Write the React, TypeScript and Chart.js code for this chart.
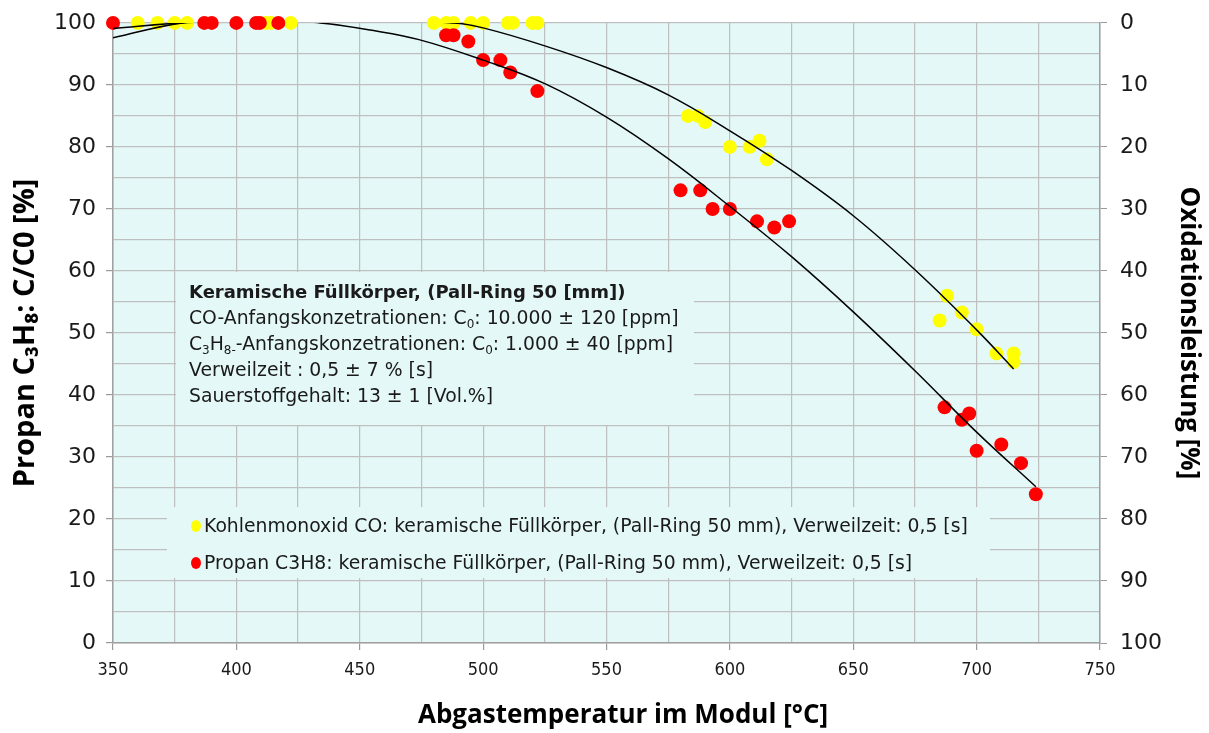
import React, { useEffect, useRef } from 'react';
import { Chart, registerables } from 'chart.js';

Chart.register(...registerables);

// ---------- data ----------
const coTemps = [360, 368, 375, 380, 412, 414, 422, 480, 485, 488, 495, 500, 510, 512, 520, 522,
  583, 587, 590, 600, 608, 612, 615, 685, 688, 694, 700, 708, 715, 715];
const coValues = [100, 100, 100, 100, 100, 100, 100, 100, 100, 100, 100, 100, 100, 100, 100, 100,
  85, 85, 84, 80, 80, 81, 78, 52, 56, 53.3, 50.6, 46.7, 46.7, 45.3];

const c3h8Temps = [350, 387, 390, 400, 408, 409.5, 417, 485, 488, 494, 500, 507, 511, 522,
  580, 588, 593, 600, 611, 618, 624, 687, 694, 697, 700, 710, 718, 724];
const c3h8Values = [100, 100, 100, 100, 100, 100, 100, 98, 98, 97, 94, 94, 92, 89,
  73, 73, 70, 70, 68, 67, 68, 38, 36, 37, 31, 32, 29, 24];

// trend curves
const coTrendTemps = [350, 378, 433, 488, 500, 525, 550, 575, 600, 625, 650, 675, 700, 715];
const coTrendValues = [99.1, 100, 100.8, 100, 99.2, 96.3, 92.8, 88.4, 82.6, 76.2, 68.9, 60.2, 50.5, 44.2];
const c3h8TrendTemps = [350, 378, 406, 434, 455, 474, 500, 525, 550, 575, 600, 625, 650, 675, 700, 724];
const c3h8TrendValues = [97.6, 100, 100.7, 100, 98.8, 97.3, 94.0, 90.2, 84.8, 78.1, 70.4, 62.3, 53.4, 43.9, 34.0, 25.2];

const xTickStep = 25;
const xLabelStep = 50;
const yTickStep = 5;
const yLabelStep = 10;

const xTitle = 'Abgastemperatur im Modul [°C]';
const yTitle = 'Propan C₃H₈: C/C0 [%]';
const y2Title = 'Oxidationsleistung [%]';

const legendLabels = [
  'Kohlenmonoxid CO: keramische Füllkörper, (Pall-Ring 50 mm), Verweilzeit: 0,5 [s]',
  'Propan C3H8: keramische Füllkörper, (Pall-Ring 50 mm), Verweilzeit: 0,5 [s]',
];
const seriesColors = ['#FFFF00', '#FF0000'];

const infoTitle = 'Keramische Füllkörper, (Pall-Ring 50 [mm])';
// [text, isSubscript]
const infoLines: [string, boolean][][] = [
  [['CO-Anfangskonzetrationen: C', false], ['0', true], [': 10.000 ± 120 [ppm]', false]],
  [['C', false], ['3', true], ['H', false], ['8-', true], ['-Anfangskonzetrationen: C', false], ['0', true], [': 1.000 ± 40 [ppm]', false]],
  [['Verweilzeit : 0,5 ± 7 % [s]', false]],
  [['Sauerstoffgehalt: 13 ± 1 [Vol.%]', false]],
];

// ---------- styling ----------
const BG = '#E4F8F8';
const GRID = '#BFBFBF';
const TITLE_FONT = '"Open Sans", "Noto Sans", sans-serif';
const BODY_FONT = '"DejaVu Sans", "Noto Sans", sans-serif';
const TEXT = '#1a1a1a';

const pts = (xs: number[], ys: number[]) => xs.map((x, i) => ({ x, y: ys[i] }));

const decorPlugin = {
  id: 'decor',
  beforeDraw(chart: any) {
    const { ctx, chartArea: a } = chart;
    ctx.save();
    ctx.fillStyle = BG;
    ctx.fillRect(a.left, a.top, a.right - a.left, a.bottom - a.top);
    ctx.restore();
  },
  beforeDatasetsDraw(chart: any) {
    const { ctx } = chart;
    ctx.save();
    // info box
    ctx.fillStyle = BG;
    ctx.fillRect(176, 272, 518, 153);
    ctx.fillStyle = TEXT;
    ctx.textBaseline = 'alphabetic';
    ctx.textAlign = 'left';
    ctx.font = `bold 18px ${BODY_FONT}`;
    ctx.fillText(infoTitle, 189, 298);
    infoLines.forEach((segs, i) => {
      let x = 189;
      const y = 324 + i * 26;
      segs.forEach(([t, sub]) => {
        ctx.font = `${sub ? 12 : 18.8}px ${BODY_FONT}`;
        ctx.fillText(t, x, sub ? y + 4 : y);
        x += ctx.measureText(t).width;
      });
    });

    // legend box
    ctx.fillStyle = BG;
    ctx.fillRect(167, 507, 823, 71);
    ctx.font = `18.8px ${BODY_FONT}`;
    ctx.textBaseline = 'middle';
    legendLabels.forEach((lab, i) => {
      const cy = 526 + i * 37;
      ctx.fillStyle = seriesColors[i];
      ctx.beginPath();
      ctx.ellipse(196, cy, 5, 6, 0, 0, Math.PI * 2);
      ctx.fill();
      ctx.fillStyle = TEXT;
      ctx.fillText(lab, 204, cy + 1);
    });
    ctx.restore();
  },
  afterDraw(chart: any) {
    const { ctx } = chart;
    ctx.save();
    ctx.fillStyle = '#000';
    ctx.font = `bold 26px ${TITLE_FONT}`;
    ctx.textAlign = 'center';
    ctx.textBaseline = 'middle';
    ctx.fillText(xTitle, 623, 716);
    ctx.restore();
  },
};

export default function App() {
  const ref = useRef<HTMLCanvasElement | null>(null);

  useEffect(() => {
    if (!ref.current) return;
    const trend = (data: any) => ({
      type: 'line',
      data,
      borderColor: '#000',
      borderWidth: 1.5,
      pointRadius: 0,
      fill: false,
      tension: 0.4,
      clip: 0,
      order: 0,
    });
    const chart = new Chart(ref.current, {
      type: 'scatter',
      data: {
        datasets: [
          { ...trend(pts(coTrendTemps, coTrendValues)), label: 'CO trend' },
          { ...trend(pts(c3h8TrendTemps, c3h8TrendValues)), label: 'C3H8 trend' },
          {
            label: legendLabels[1],
            data: pts(c3h8Temps, c3h8Values),
            backgroundColor: seriesColors[1],
            borderWidth: 0,
            pointRadius: 7,
            clip: false,
            order: 1,
          },
          {
            label: legendLabels[0],
            data: pts(coTemps, coValues),
            backgroundColor: seriesColors[0],
            borderWidth: 0,
            pointRadius: 7,
            clip: false,
            order: 2,
          },
        ],
      } as any,
      options: {
        animation: false,
        responsive: false,
        devicePixelRatio: 1,
        layout: { padding: { top: 22, left: 0, right: 0, bottom: 0 } },
        plugins: { legend: { display: false }, tooltip: { enabled: false } },
        scales: {
          x: {
            type: 'linear',
            position: 'bottom',
            min: 350,
            max: 750,
            afterFit: (s: any) => { s.height = 90; },
            ticks: {
              stepSize: xTickStep,
              autoSkip: false,
              maxRotation: 0,
              padding: 10,
              color: TEXT,
              font: { family: '"Liberation Sans Narrow", "DejaVu Sans Condensed", sans-serif', size: 18 },
              callback: (v: any) => (v % xLabelStep === 0 ? String(v) : ''),
            },
            grid: {
              color: GRID,
              lineWidth: 1.2,
              tickLength: 7,
              tickColor: (c: any) => (c.tick && c.tick.value % xLabelStep === 0 ? '#999' : 'rgba(0,0,0,0)'),
            },
            border: { color: '#A0A0A0', width: 1.5 },
            title: { display: false, text: xTitle },
          },
          y: {
            position: 'left',
            min: 0,
            max: 100,
            afterFit: (s: any) => { s.width = 113; },
            ticks: {
              stepSize: yTickStep,
              autoSkip: false,
              padding: 10,
              color: TEXT,
              font: { family: BODY_FONT, size: 22, lineHeight: 0.9 },
              callback: (v: any) => (v % yLabelStep === 0 ? String(v) : ''),
            },
            grid: {
              color: GRID,
              lineWidth: 1.2,
              tickLength: 7,
              tickColor: (c: any) => (c.tick && c.tick.value % yLabelStep === 0 ? '#999' : 'rgba(0,0,0,0)'),
            },
            border: { color: '#A0A0A0', width: 1.5 },
            title: {
              display: true,
              text: yTitle,
              color: '#000',
              font: { family: TITLE_FONT, size: 29, weight: 'bold' },
              padding: { top: 8, bottom: 0 },
            },
          },
          y2: {
            position: 'right',
            min: 0,
            max: 100,
            reverse: true,
            afterFit: (s: any) => { s.width = 109; },
            ticks: {
              stepSize: yLabelStep,
              autoSkip: false,
              padding: 13,
              color: TEXT,
              font: { family: BODY_FONT, size: 22, lineHeight: 0.9 },
            },
            grid: { drawOnChartArea: false, tickLength: 7, tickColor: '#999' },
            border: { color: '#A0A0A0', width: 1.5 },
            title: {
              display: true,
              text: y2Title,
              color: '#000',
              font: { family: TITLE_FONT, size: 26, weight: 'bold' },
              padding: { top: 5, bottom: 0 },
            },
          },
        },
      } as any,
      plugins: [decorPlugin],
    });
    return () => chart.destroy();
  }, []);

  return (
    <div style={{ position: 'absolute', left: 0, top: 0, width: 1209, height: 733, background: '#fff' }}>
      <canvas ref={ref} width={1209} height={733} style={{ display: 'block' }} />
    </div>
  );
}
